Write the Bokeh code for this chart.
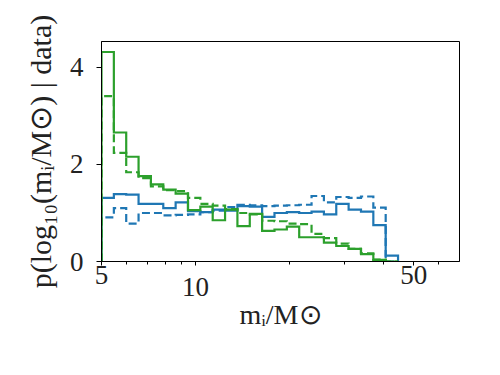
import numpy as np
from bokeh.plotting import figure
from bokeh.models import Range1d, FixedTicker
from bokeh.embed import file_html
from bokeh.resources import INLINE

# ---- data ----
bin_min = 5.0
bin_max = 44.5
n_bins = 24

blue_solid = [1.31, 1.39, 1.38, 1.19, 1.19, 1.10, 1.22, 1.04, 1.02, 1.07, 1.05, 1.14,
              1.13, 0.92, 1.00, 1.02, 1.00, 1.03, 0.97, 1.19, 1.07, 1.03, 0.75, 0.12]
blue_dashed = [0.91, 1.10, 0.78, 1.00, 1.00, 0.95, 0.96, 0.97, 1.02, 1.05, 1.12, 1.17,
               1.16, 1.14, 1.15, 1.16, 1.17, 1.35, 1.22, 1.33, 1.31, 1.34, 1.11, 0.0]
green_solid = [4.32, 2.66, 2.16, 1.76, 1.59, 1.48, 1.40, 1.06, 1.13, 0.85, 1.07, 0.73,
               0.98, 0.63, 0.66, 0.72, 0.50, 0.50, 0.39, 0.32, 0.26, 0.15, 0.035, 0.0]
green_dashed = [3.41, 2.24, 1.84, 1.72, 1.55, 1.47, 1.45, 1.31, 1.19, 1.15, 1.08, 1.00,
                0.97, 0.84, 0.83, 0.78, 0.77, 0.57, 0.48, 0.37, 0.26, 0.17, 0.04, 0.0]

x_label_ticks = [5, 10, 50]
x_label_text = ["5", "\n10", "50"]
x_minor_ticks = [6, 7, 8, 9, 20, 30, 40, 60]
y_ticks = [0, 2, 4]

BLUE = "#1f77b4"
GREEN = "#2ca02c"
FONT = "Liberation Serif"
TXT = "#222222"

edges = np.logspace(np.log10(bin_min), np.log10(bin_max), n_bins + 1)


def outline(vals):
    xs = np.repeat(edges, 2)
    ys = np.concatenate([[0.0], np.repeat(np.asarray(vals, float), 2), [0.0]])
    return xs, ys


ymax = max(max(green_solid), max(green_dashed), max(blue_solid), max(blue_dashed)) * 1.05

p = figure(width=492, height=367, x_axis_type="log",
           x_range=Range1d(5, 70), y_range=Range1d(0, ymax),
           output_backend="svg", toolbar_location=None,
           min_border_left=101, min_border_right=33, min_border_top=41, min_border_bottom=106)
p.grid.visible = False
p.outline_line_color = "black"
p.outline_line_width = 1
p.background_fill_color = "white"
p.border_fill_color = "white"

for vals, col, dash in [(blue_solid, BLUE, "solid"), (blue_dashed, BLUE, "8 4"),
                        (green_solid, GREEN, "solid"), (green_dashed, GREEN, "8 4")]:
    xs, ys = outline(vals)
    p.line(xs, ys, line_color=col, line_width=2.2, line_dash=dash, line_join="miter")

# x axis
xa = p.xaxis[0]
xa.ticker = FixedTicker(ticks=x_label_ticks, minor_ticks=x_minor_ticks)
xa.major_label_overrides = dict(zip(x_label_ticks, x_label_text))
xa.major_tick_out = 4
xa.major_tick_in = 0
xa.minor_tick_out = 3
xa.minor_tick_in = 0
xa.major_label_standoff = -6
xa.major_label_text_font = FONT
xa.major_label_text_font_size = "27px"
xa.major_label_text_line_height = 0.4
xa.major_label_text_color = TXT
xa.axis_label = "mᵢ/M⊙"
xa.axis_label_text_font = FONT
xa.axis_label_text_font_size = "28px"
xa.axis_label_text_font_style = "normal"
xa.axis_label_text_color = TXT
xa.axis_label_standoff = -6

# y axis
ya = p.yaxis[0]
ya.ticker = FixedTicker(ticks=y_ticks, minor_ticks=[])
ya.major_tick_out = 5
ya.major_tick_in = 0
ya.minor_tick_out = 0
ya.major_label_standoff = 13
ya.major_label_text_font = FONT
ya.major_label_text_font_size = "27px"
ya.major_label_text_color = TXT
ya.axis_label = "p(log₁₀(mᵢ/M⊙) | data)"
ya.axis_label_text_font = FONT
ya.axis_label_text_font_size = "30px"
ya.axis_label_text_font_style = "normal"
ya.axis_label_text_color = TXT
ya.axis_label_standoff = 10

open("out.html", "w").write(file_html(p, INLINE))
